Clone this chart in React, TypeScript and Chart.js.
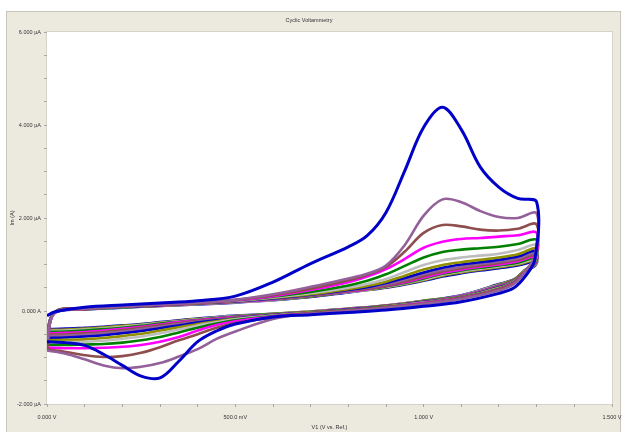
import React, { useEffect, useRef } from 'react';
import { Chart, registerables } from 'chart.js';

Chart.register(...registerables);

// Potentials (V) for forward and reverse sweeps
const FWD_V = [0, 0.02, 0.1, 0.2, 0.3, 0.4, 0.5, 0.6, 0.7, 0.8, 0.85, 0.9, 0.95, 1.0, 1.05, 1.1, 1.15, 1.2, 1.25, 1.3];
const REV_V = [1.295, 1.27, 1.24, 1.2, 1.1, 1.0, 0.9, 0.8, 0.7, 0.6, 0.5, 0.45, 0.4, 0.35, 0.3, 0.25, 0.2, 0.15, 0.1, 0.05, 0];

// Currents (µA), one forward and one reverse array per cycle
const C1_FWD = [-0.1, -0.02, 0.08, 0.13, 0.17, 0.22, 0.32, 0.62, 1.02, 1.38, 1.62, 2.12, 3.02, 3.95, 4.38, 3.9, 3.1, 2.66, 2.42, 2.34];
const C1_REV = [1.1, 0.75, 0.5, 0.38, 0.2, 0.1, 0.02, -0.03, -0.08, -0.13, -0.28, -0.43, -0.66, -1.08, -1.44, -1.4, -1.17, -0.93, -0.74, -0.68, -0.66];
const C2_FWD = [-0.66, -0.05, 0.05, 0.1, 0.14, 0.18, 0.24, 0.36, 0.52, 0.7, 0.8, 0.98, 1.42, 2.05, 2.4, 2.34, 2.15, 2.02, 2.0, 2.1];
const C2_REV = [1.2, 0.85, 0.58, 0.44, 0.26, 0.15, 0.07, 0.0, -0.06, -0.17, -0.44, -0.6, -0.82, -0.98, -1.12, -1.2, -1.23, -1.17, -1.04, -0.92, -0.85];
const C3_FWD = [-0.85, -0.04, 0.05, 0.1, 0.14, 0.18, 0.24, 0.34, 0.48, 0.66, 0.78, 0.95, 1.28, 1.68, 1.85, 1.82, 1.75, 1.73, 1.77, 1.86];
const C3_REV = [1.15, 0.86, 0.6, 0.46, 0.27, 0.16, 0.08, 0.01, -0.05, -0.14, -0.26, -0.36, -0.5, -0.63, -0.78, -0.9, -0.97, -0.99, -0.95, -0.88, -0.83];
const C4_FWD = [-0.83, -0.04, 0.05, 0.1, 0.14, 0.18, 0.23, 0.32, 0.45, 0.62, 0.74, 0.9, 1.12, 1.36, 1.49, 1.55, 1.57, 1.6, 1.63, 1.68];
const C4_REV = [1.1, 0.86, 0.61, 0.47, 0.28, 0.17, 0.08, 0.01, -0.05, -0.12, -0.22, -0.3, -0.42, -0.56, -0.66, -0.73, -0.77, -0.79, -0.8, -0.8, -0.79];
const C5_FWD = [-0.79, -0.03, 0.05, 0.1, 0.14, 0.18, 0.23, 0.31, 0.41, 0.55, 0.65, 0.79, 0.97, 1.15, 1.27, 1.32, 1.35, 1.38, 1.44, 1.53];
const C5_REV = [1.08, 0.87, 0.62, 0.48, 0.29, 0.17, 0.09, 0.02, -0.04, -0.11, -0.2, -0.27, -0.36, -0.46, -0.56, -0.63, -0.68, -0.71, -0.72, -0.73, -0.73];
const C6_FWD = [-0.73, -0.03, 0.05, 0.1, 0.14, 0.18, 0.22, 0.29, 0.38, 0.5, 0.58, 0.69, 0.84, 0.99, 1.09, 1.15, 1.19, 1.23, 1.31, 1.42];
const C6_REV = [1.06, 0.87, 0.63, 0.49, 0.29, 0.18, 0.09, 0.02, -0.04, -0.1, -0.18, -0.24, -0.31, -0.4, -0.48, -0.55, -0.6, -0.64, -0.66, -0.67, -0.68];
const C7_FWD = [-0.68, -0.03, 0.05, 0.1, 0.14, 0.17, 0.22, 0.28, 0.36, 0.47, 0.54, 0.63, 0.76, 0.89, 0.99, 1.05, 1.1, 1.15, 1.22, 1.35];
const C7_REV = [1.05, 0.88, 0.64, 0.5, 0.3, 0.18, 0.1, 0.02, -0.03, -0.1, -0.17, -0.22, -0.28, -0.35, -0.42, -0.49, -0.54, -0.58, -0.61, -0.62, -0.63];
const C8_FWD = [-0.63, -0.03, 0.05, 0.09, 0.13, 0.17, 0.21, 0.27, 0.35, 0.45, 0.51, 0.6, 0.71, 0.83, 0.93, 1.0, 1.05, 1.1, 1.17, 1.3];
const C8_REV = [1.04, 0.88, 0.64, 0.51, 0.3, 0.19, 0.1, 0.03, -0.03, -0.09, -0.16, -0.2, -0.25, -0.31, -0.37, -0.43, -0.48, -0.52, -0.55, -0.57, -0.58];
const C9_FWD = [-0.58, -0.03, 0.05, 0.09, 0.13, 0.17, 0.21, 0.26, 0.34, 0.44, 0.5, 0.57, 0.67, 0.79, 0.88, 0.95, 1.01, 1.06, 1.13, 1.25];
const C9_REV = [1.03, 0.88, 0.65, 0.52, 0.31, 0.19, 0.1, 0.03, -0.03, -0.09, -0.15, -0.19, -0.23, -0.28, -0.34, -0.39, -0.44, -0.48, -0.51, -0.53, -0.54];
const C10_FWD = [-0.54, -0.03, 0.04, 0.09, 0.13, 0.16, 0.2, 0.26, 0.33, 0.43, 0.48, 0.55, 0.64, 0.75, 0.85, 0.92, 0.98, 1.03, 1.1, 1.21];
const C10_REV = [1.02, 0.88, 0.66, 0.53, 0.31, 0.2, 0.11, 0.03, -0.02, -0.08, -0.14, -0.18, -0.21, -0.26, -0.31, -0.36, -0.41, -0.45, -0.48, -0.5, -0.51];
const C11_FWD = [-0.51, -0.03, 0.04, 0.09, 0.12, 0.16, 0.2, 0.25, 0.33, 0.42, 0.47, 0.54, 0.62, 0.72, 0.82, 0.89, 0.95, 1.0, 1.07, 1.18];
const C11_REV = [1.01, 0.88, 0.66, 0.54, 0.32, 0.2, 0.11, 0.04, -0.02, -0.08, -0.13, -0.16, -0.2, -0.24, -0.29, -0.34, -0.38, -0.42, -0.45, -0.47, -0.48];
const C12_FWD = [-0.48, -0.03, 0.04, 0.08, 0.12, 0.16, 0.2, 0.25, 0.32, 0.42, 0.47, 0.53, 0.6, 0.7, 0.8, 0.87, 0.93, 0.98, 1.04, 1.15];
const C12_REV = [1.0, 0.88, 0.67, 0.55, 0.32, 0.21, 0.11, 0.04, -0.02, -0.07, -0.12, -0.15, -0.19, -0.23, -0.27, -0.32, -0.36, -0.39, -0.42, -0.44, -0.45];
const C13_FWD = [-0.45, -0.03, 0.04, 0.08, 0.12, 0.15, 0.19, 0.24, 0.32, 0.41, 0.46, 0.52, 0.59, 0.68, 0.78, 0.85, 0.91, 0.96, 1.02, 1.12];
const C13_REV = [0.99, 0.87, 0.67, 0.56, 0.33, 0.21, 0.12, 0.04, -0.01, -0.07, -0.11, -0.14, -0.18, -0.22, -0.26, -0.3, -0.34, -0.37, -0.4, -0.42, -0.43];
const C14_FWD = [-0.43, -0.03, 0.04, 0.08, 0.11, 0.15, 0.19, 0.24, 0.31, 0.41, 0.45, 0.51, 0.58, 0.66, 0.76, 0.83, 0.89, 0.94, 1.0, 1.1];
const C14_REV = [0.98, 0.87, 0.68, 0.57, 0.33, 0.22, 0.12, 0.05, -0.01, -0.06, -0.11, -0.14, -0.17, -0.21, -0.25, -0.29, -0.32, -0.35, -0.38, -0.4, -0.41];
const C15_FWD = [-0.41, -0.03, 0.03, 0.07, 0.11, 0.14, 0.18, 0.23, 0.3, 0.4, 0.45, 0.5, 0.57, 0.65, 0.74, 0.81, 0.87, 0.92, 0.98, 1.07];
const C15_REV = [0.97, 0.86, 0.68, 0.58, 0.34, 0.22, 0.12, 0.05, -0.01, -0.06, -0.1, -0.13, -0.16, -0.2, -0.24, -0.28, -0.31, -0.34, -0.36, -0.38, -0.39];

const PALETTE = ['#0000C8', '#93609A', '#8E4E4E', '#FF00FF', '#008000', '#BDBDBD', '#8F8F00'];

const X_LABEL_VALUES = [0, 0.5, 1.0, 1.5];
const X_LABEL_TEXT = ['0.000 V', '500.0 mV', '1.000 V', '1.500 V'];
const Y_LABEL_VALUES = [-2, 0, 2, 4, 6];
const Y_LABEL_TEXT = ['-2.000 µA', '0.000 A', '2.000 µA', '4.000 µA', '6.000 µA'];

const CYCLES = [
  [C1_FWD, C1_REV], [C2_FWD, C2_REV], [C3_FWD, C3_REV], [C4_FWD, C4_REV], [C5_FWD, C5_REV],
  [C6_FWD, C6_REV], [C7_FWD, C7_REV], [C8_FWD, C8_REV], [C9_FWD, C9_REV], [C10_FWD, C10_REV],
  [C11_FWD, C11_REV], [C12_FWD, C12_REV], [C13_FWD, C13_REV], [C14_FWD, C14_REV], [C15_FWD, C15_REV],
];

const FONT = 'Liberation Sans, Arial, sans-serif';

function labelFor(v: number, values: number[], texts: string[]) {
  for (let i = 0; i < values.length; i++) {
    if (Math.abs(values[i] - v) < 1e-6) return texts[i];
  }
  return '';
}

export default function App() {
  const ref = useRef<HTMLCanvasElement>(null);

  useEffect(() => {
    const framePlugin = {
      id: 'framePlugin',
      beforeDraw(chart: any) {
        const { ctx, chartArea: a } = chart;
        ctx.save();
        ctx.fillStyle = '#ffffff';
        ctx.fillRect(0, 0, chart.width, chart.height);
        ctx.fillStyle = '#ECE9DF';
        ctx.fillRect(6, 11, 615, 430);
        ctx.strokeStyle = '#C8C5BB';
        ctx.lineWidth = 1;
        ctx.strokeRect(6.5, 11.5, 614, 430);
        ctx.fillStyle = '#ffffff';
        ctx.fillRect(a.left, a.top, a.right - a.left, a.bottom - a.top);
        ctx.strokeStyle = '#D6D3CA';
        ctx.strokeRect(a.left - 0.5, a.top - 0.5, a.right - a.left + 1, a.bottom - a.top + 1);
        ctx.restore();
      },
    };

    const datasets = CYCLES.map(([fwd, rev], i) => ({
      data: [
        ...FWD_V.map((v, j) => ({ x: v, y: fwd[j] })),
        ...REV_V.map((v, j) => ({ x: v, y: rev[j] })),
      ],
      borderColor: PALETTE[i % PALETTE.length],
      borderWidth: i === 0 ? 3 : 2.6,
      pointRadius: 0,
      showLine: true,
      fill: false,
      tension: 0.35,
      borderJoinStyle: 'round' as const,
    }));

    const chart = new Chart(ref.current as HTMLCanvasElement, {
      type: 'scatter',
      data: { datasets },
      plugins: [framePlugin],
      options: {
        animation: false,
        responsive: false,
        devicePixelRatio: 1,
        layout: { padding: { left: 6, right: 15, top: 0, bottom: 0 } },
        plugins: {
          legend: { display: false },
          tooltip: { enabled: false },
          title: {
            display: true,
            text: 'Cyclic Voltammetry',
            color: '#333',
            font: { size: 5.5, family: FONT, weight: 'normal' },
            padding: { top: 16.7, bottom: 8.7 },
          },
        },
        scales: {
          x: {
            type: 'linear',
            min: 0,
            max: 1.5,
            border: { display: false },
            grid: { drawOnChartArea: false, drawTicks: true, tickLength: 3, color: '#A8A8A8' },
            ticks: {
              stepSize: 0.1,
              autoSkip: false,
              maxRotation: 0,
              padding: 7,
              color: '#333',
              font: { size: 5.5, family: FONT },
              callback: (v: any) => labelFor(Number(v), X_LABEL_VALUES, X_LABEL_TEXT),
            },
            title: {
              display: true,
              text: 'V1 (V vs. Ref.)',
              color: '#333',
              font: { size: 5.5, family: FONT },
              padding: { top: 0, bottom: 1 },
            },
            afterFit: (s: any) => {
              s.height = 28;
              s.paddingLeft = 0;
              s.paddingRight = 0;
            },
          },
          y: {
            type: 'linear',
            min: -2,
            max: 6,
            border: { display: false },
            grid: { drawOnChartArea: false, drawTicks: true, tickLength: 3, color: '#A8A8A8' },
            ticks: {
              stepSize: 0.5,
              autoSkip: false,
              padding: 3,
              color: '#333',
              font: { size: 5.5, family: FONT },
              callback: (v: any) => labelFor(Number(v), Y_LABEL_VALUES, Y_LABEL_TEXT),
            },
            title: {
              display: true,
              text: 'Im (A)',
              color: '#333',
              font: { size: 5.5, family: FONT },
              padding: { top: 3, bottom: 0 },
            },
            afterFit: (s: any) => {
              s.width = 41;
              s.paddingTop = 0;
              s.paddingBottom = 0;
            },
          },
        },
      },
    });
    return () => chart.destroy();
  }, []);

  return (
    <div style={{ position: 'fixed', left: 0, top: 0, width: 627, height: 432, background: '#fff' }}>
      <canvas ref={ref} width={627} height={432} style={{ display: 'block' }} />
    </div>
  );
}
